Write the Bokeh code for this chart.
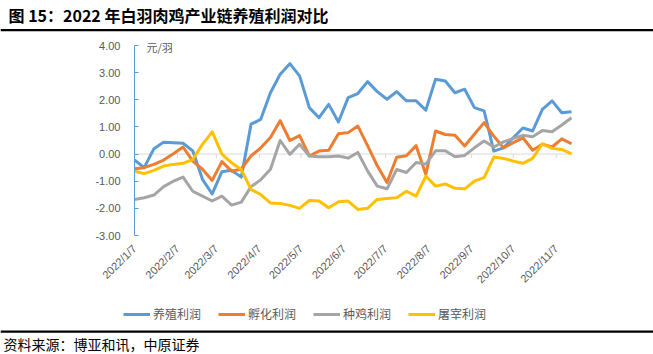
import numpy as np
import pandas as pd
from bokeh.plotting import figure
from bokeh.models import (Range1d, FixedTicker, NumeralTickFormatter, Span, Label,
                          Legend, LegendItem)
from bokeh.embed import file_html
from bokeh.resources import INLINE

# ---------------- data ----------------
title_text = "图 15：2022 年白羽肉鸡产业链养殖利润对比"
source_text = "资料来源：博亚和讯，中原证券"
unit_text = "元/羽"
series_names = ["养殖利润", "孵化利润", "种鸡利润", "屠宰利润"]
series_colors = ["#5B9BD5", "#ED7D31", "#A5A5A5", "#FFC000"]

start_date = "2022-01-07"

breeding = [-0.22, -0.50, 0.20, 0.44, 0.42, 0.40, 0.12, -0.93, -1.47, -0.65,
            -0.60, -0.85, 1.10, 1.28, 2.26, 2.94, 3.33, 2.88, 1.71, 1.34,
            1.83, 1.18, 2.08, 2.23, 2.67, 2.30, 2.02, 2.30, 1.96, 1.96,
            1.62, 2.76, 2.69, 2.26, 2.39, 1.71, 1.59, 0.11, 0.23, 0.60,
            0.96, 0.85, 1.65, 1.96, 1.52, 1.56]
hatching = [-0.54, -0.50, -0.38, -0.22, 0.01, 0.26, -0.26, -0.56, -0.97, -0.28,
            -0.63, -0.55, -0.07, 0.23, 0.61, 1.23, 0.50, 0.68, -0.07, 0.11,
            0.14, 0.75, 0.79, 1.03, 0.31, -0.43, -1.05, -0.12, -0.06, 0.31,
            -0.75, 0.85, 0.72, 0.69, 0.30, 0.73, 1.16, 0.66, 0.23, 0.42,
            0.60, 0.14, 0.36, 0.26, 0.56, 0.38]
breeder = [-1.67, -1.61, -1.51, -1.20, -1.00, -0.85, -1.37, -1.55, -1.73, -1.55,
           -1.88, -1.77, -1.20, -0.95, -0.56, 0.50, -0.01, 0.36, -0.07, -0.10,
           -0.10, -0.07, -0.15, 0.06, -0.62, -1.18, -1.28, -0.57, -0.68, -0.31,
           -0.37, 0.12, 0.12, -0.10, -0.05, 0.23, 0.48, 0.26, 0.45, 0.58,
           0.69, 0.64, 0.87, 0.82, 1.07, 1.34]
slaughter = [-0.63, -0.72, -0.60, -0.44, -0.38, -0.34, -0.20, 0.36, 0.82, 0.00,
             -0.32, -0.57, -1.30, -1.49, -1.80, -1.82, -1.89, -2.00, -1.71, -1.73,
             -1.98, -1.76, -1.73, -2.04, -2.00, -1.67, -1.64, -1.61, -1.37, -1.55,
             -0.81, -1.18, -1.10, -1.26, -1.28, -1.00, -0.87, -0.11, -0.16, -0.26,
             -0.34, -0.16, 0.38, 0.21, 0.17, 0.01]

tick_labels = ["2022/1/7", "2022/2/7", "2022/3/7", "2022/4/7", "2022/5/7", "2022/6/7",
               "2022/7/7", "2022/8/7", "2022/9/7", "2022/10/7", "2022/11/7"]
y_ticks = [-3, -2, -1, 0, 1, 2, 3, 4]

# ---------------- derived ----------------
dates = pd.date_range(start_date, periods=len(breeding), freq="7D")
x = np.array([(d - dates[0]).days for d in dates])
tick_days = [int((pd.to_datetime(t, format="%Y/%m/%d") - dates[0]).days) for t in tick_labels]
x_end = int(x[-1])
y_lo, y_hi = min(y_ticks), max(y_ticks)

# ---------------- layout geometry (pixels) ----------------
W, H = 653, 354
PL_LEFT, PL_RIGHT, PL_TOP, PL_BOTTOM = 134, 571, 45, 235
ppx = (PL_RIGHT - PL_LEFT) / x_end          # px per day
ppy = (PL_BOTTOM - PL_TOP) / (y_hi - y_lo)  # px per unit


def dx(px):
    return (px - PL_LEFT) / ppx


def dy(py):
    return y_hi - (py - PL_TOP) / ppy


cjk = "Noto Sans CJK SC"
axis_font = "Liberation Sans"

p = figure(width=W, height=H, output_backend="svg", toolbar_location=None, title=None,
           x_range=Range1d(dx(0), dx(W)), y_range=Range1d(dy(H), dy(0)),
           min_border=0, min_border_left=0, min_border_right=0,
           min_border_top=0, min_border_bottom=0)
p.xgrid.visible = False
p.ygrid.visible = False
p.outline_line_color = None
p.background_fill_color = "white"
p.border_fill_color = "white"

# x axis (drawn at the bottom of the value range)
p.xaxis.fixed_location = y_lo
p.xaxis.bounds = (0, x_end)
p.xaxis.ticker = FixedTicker(ticks=tick_days)
p.xaxis.major_label_overrides = {d: lab for d, lab in zip(tick_days, tick_labels)}
p.xaxis.axis_line_color = None
p.xaxis.major_tick_line_color = None
p.xaxis.minor_tick_line_color = None
p.xaxis.major_label_orientation = np.pi / 4
p.xaxis.major_label_text_font_size = "11px"
p.xaxis.major_label_text_color = "#595959"
p.xaxis.major_label_text_font = axis_font
p.xaxis.major_label_standoff = 5

# y axis
p.yaxis.fixed_location = 0
p.yaxis.bounds = (y_lo, y_hi)
p.yaxis.ticker = FixedTicker(ticks=y_ticks)
p.yaxis.formatter = NumeralTickFormatter(format="0.00")
p.yaxis.axis_line_color = "#5B9BD5"
p.yaxis.major_tick_line_color = "#5B9BD5"
p.yaxis.major_tick_in = 4
p.yaxis.major_tick_out = 0
p.yaxis.minor_tick_line_color = None
p.yaxis.major_label_text_font_size = "11px"
p.yaxis.major_label_text_color = "#595959"
p.yaxis.major_label_text_font = axis_font
p.yaxis.major_label_standoff = 14

# zero line with category ticks
p.segment(x0=[0], y0=[0], x1=[x_end], y1=[0], line_color="#D9D9D9", line_width=1)
p.segment(x0=tick_days[1:], y0=[0] * (len(tick_days) - 1), x1=tick_days[1:],
          y1=[-4 / ppy] * (len(tick_days) - 1), line_color="#D9D9D9", line_width=1)

renderers = []
for vals, col in zip([breeding, hatching, breeder, slaughter], series_colors):
    renderers.append(p.line(x, vals, line_color=col, line_width=3, line_join="round"))

# unit label
p.add_layout(Label(x=dx(146), y=dy(46), text=unit_text, text_font_size="11px",
                   text_color="#595959", text_baseline="middle", text_font=cjk))

# legend
legend = Legend(items=[LegendItem(label=n, renderers=[r]) for n, r in zip(series_names, renderers)],
                orientation="horizontal", location=(123, H - 322),
                glyph_width=27, glyph_height=14, label_height=14, label_standoff=3,
                spacing=17, padding=0, margin=0, border_line_color=None,
                background_fill_alpha=0, label_text_font_size="12px",
                label_text_color="#595959", label_text_font=cjk)
p.add_layout(legend)

# title, rules, source
p.add_layout(Label(x=dx(8), y=dy(14), text=title_text, text_font_size="16px",
                   text_font_style="bold", text_color="#000000", text_baseline="middle",
                   text_font=cjk))
p.add_layout(Span(location=dy(29.6), dimension="width", line_color="#000000", line_width=2.2))
p.add_layout(Span(location=dy(331.2), dimension="width", line_color="#000000", line_width=2.2))
p.add_layout(Label(x=dx(3), y=dy(343), text=source_text, text_font_size="14px",
                   text_color="#000000", text_baseline="middle", text_font=cjk))

open("out.html", "w").write(file_html(p, INLINE))
